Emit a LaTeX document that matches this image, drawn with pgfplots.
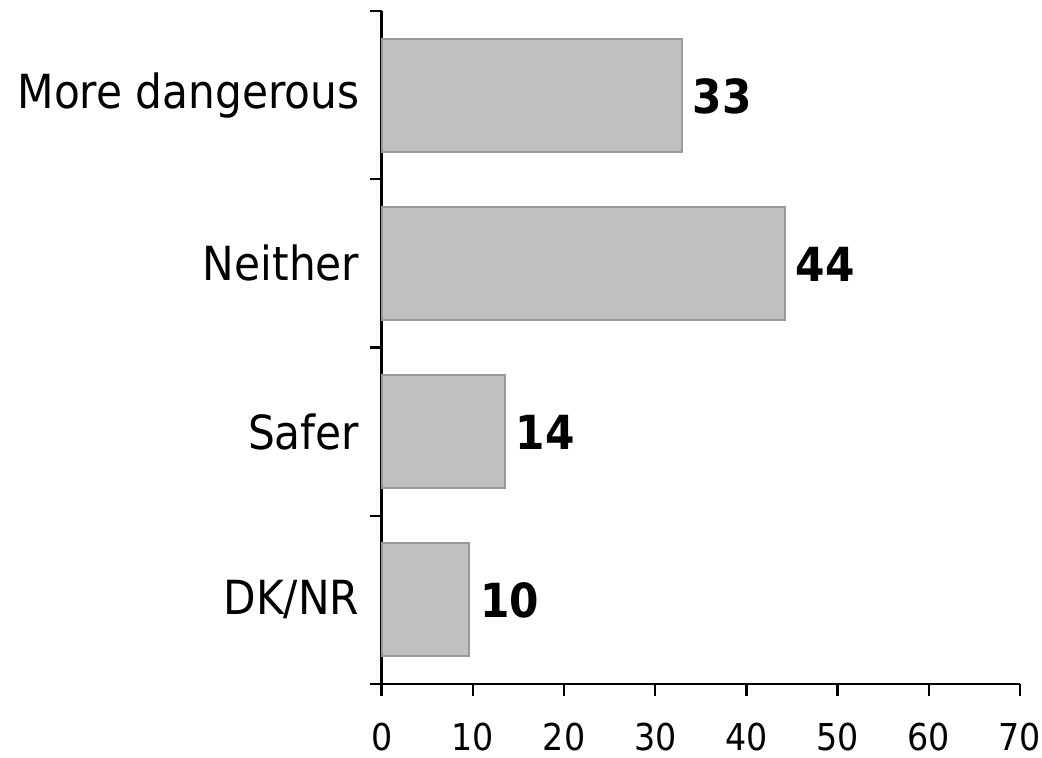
\documentclass[border=0pt]{standalone}
\usepackage{pgfplots}
\usepackage{pgfplotstable}
\pgfplotsset{compat=1.18}
\usepackage{fontspec}
\setmainfont{DejaVu Sans Condensed}
\definecolor{barfill}{HTML}{C0C0C0}
\definecolor{barline}{HTML}{9A9A9A}
\pgfplotstableread{
y x lab
0 9.6 10
1 13.5 14
2 44.2 44
3 32.9 33
}\data
\begin{document}
\begin{tikzpicture}
\begin{axis}[
  scale only axis, width=638.3pt, height=673pt,
  xbar, bar width=113pt, bar shift=0pt,
  xmin=0, xmax=70, ymin=-0.5, ymax=3.5,
  axis x line=bottom, axis y line=left,
  axis line style={-, line width=2.4pt},
  tick style={line width=2.4pt, black},
  tick align=outside, major tick length=12pt,
  xtick={0,10,...,70},
  /pgf/number format/assume math mode=true,
  xticklabel style={font=\fontsize{37}{44}\selectfont, yshift=-24pt},
  ytick={-0.5,0.5,1.5,2.5},
  yticklabels={DK/NR,Safer,Neither,More dangerous},
  yticklabel style={font=\fontsize{47}{56}\selectfont, yshift=84.1pt, xshift=-7pt},
  extra y ticks={3.5}, extra y tick labels={},
  nodes near coords,
  point meta=explicit symbolic,
  nodes near coords style={font=\fontsize{47}{56}\selectfont\bfseries, anchor=west, inner sep=0pt, xshift=10pt, yshift=-1pt},
  clip=false,
]
\addplot[fill=barfill, draw=barline, line width=1.8pt] table[x=x, y=y, meta=lab] {\data};
\end{axis}
\pgfresetboundingbox
\path (current axis.south west) +(-381.7pt,-74pt) rectangle +(660.3pt,684pt);
\end{tikzpicture}
\end{document}
